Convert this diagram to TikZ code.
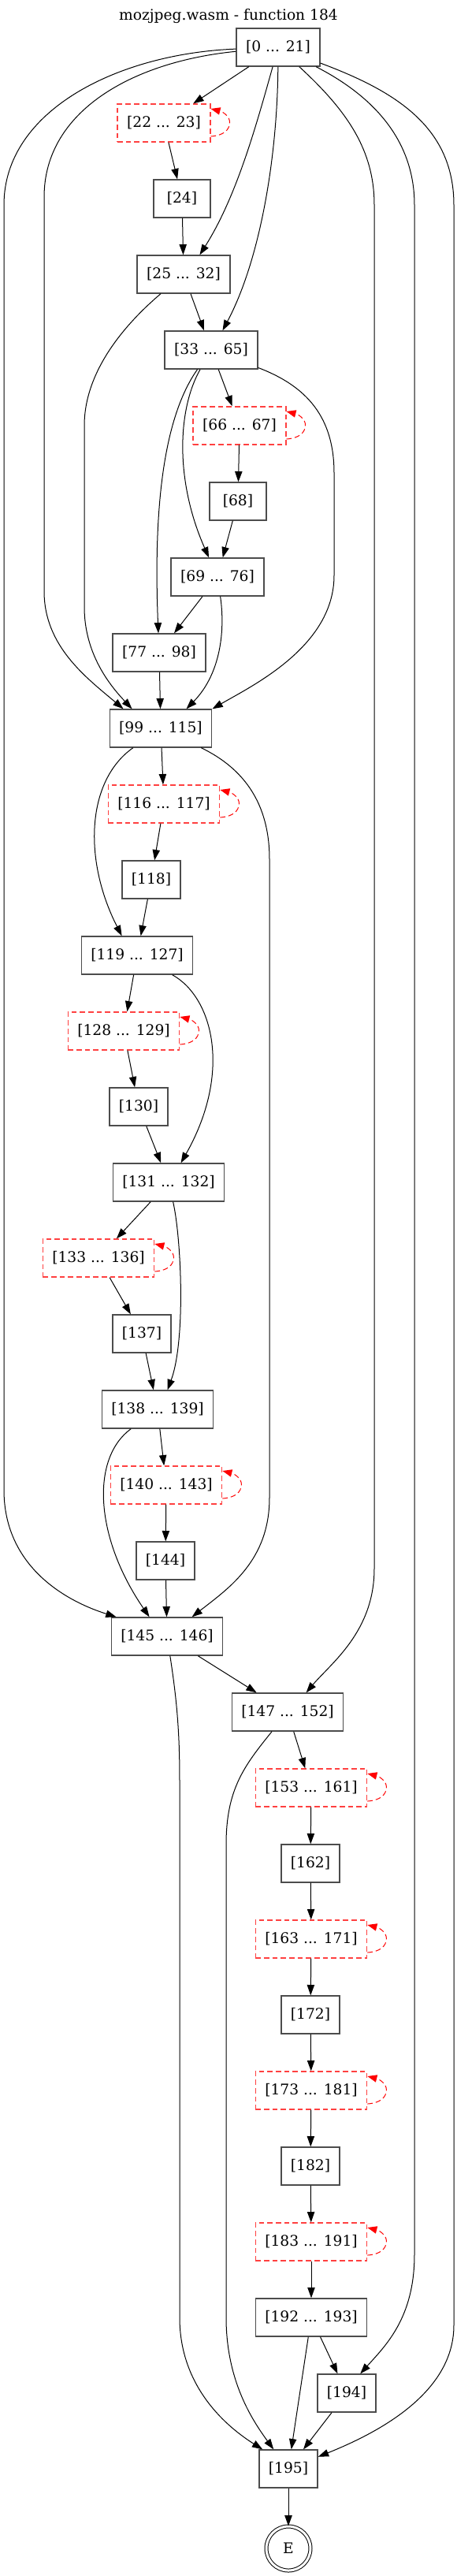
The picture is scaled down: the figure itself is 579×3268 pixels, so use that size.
\documentclass[tikz,border=0pt]{standalone}
\usepackage{fontspec}
\setmainfont{DejaVu Serif}
\usetikzlibrary{arrows.meta,calc}

\begin{document}
\begin{tikzpicture}[x=0.75pt,y=-0.75pt,
  font=\fontsize{14pt}{16pt}\selectfont,
  bb/.style={rectangle,draw=black!70,line width=1pt,minimum width=54pt,minimum height=36pt,inner xsep=9pt},
  loopbb/.style={bb,draw=red!75,dash pattern=on 5pt off 3pt},
  flow/.style={-{Triangle[length=10pt,width=7pt]},line width=0.75pt},
  backflow/.style={-{Triangle[length=9pt,width=7pt]},line width=0.75pt,red,dash pattern=on 5pt off 3pt}]

\useasboundingbox (0,0) rectangle (579,3268);

\node (title) at (290,20) {mozjpeg.wasm - function 184};

\node[bb] (b0) at (353,60) {[0 ... 21]};
\node[loopbb] (b22) at (208,156) {[22 ... 23]};
\node[bb] (b24) at (231,252) {[24]};
\node[bb] (b25) at (233,348) {[25 ... 32]};
\node[bb] (b33) at (268,444) {[33 ... 65]};
\node[loopbb] (b66) at (304,540) {[66 ... 67]};
\node[bb] (b68) at (302,636) {[68]};
\node[bb] (b69) at (276,732) {[69 ... 76]};
\node[bb] (b77) at (202,828) {[77 ... 98]};
\node[bb] (b99) at (204,924) {[99 ... 115]};
\node[loopbb] (b116) at (208,1020) {[116 ... 117]};
\node[bb] (b118) at (192,1116) {[118]};
\node[bb] (b119) at (174,1212) {[119 ... 127]};
\node[loopbb] (b128) at (157,1308) {[128 ... 129]};
\node[bb] (b130) at (176,1404) {[130]};
\node[bb] (b131) at (214,1500) {[131 ... 132]};
\node[loopbb] (b133) at (125,1596) {[133 ... 136]};
\node[bb] (b137) at (180,1692) {[137]};
\node[bb] (b138) at (200,1788) {[138 ... 139]};
\node[loopbb] (b140) at (211,1884) {[140 ... 143]};
\node[bb] (b144) at (210,1980) {[144]};
\node[bb] (b145) at (212,2076) {[145 ... 146]};
\node[bb] (b147) at (365,2172) {[147 ... 152]};
\node[loopbb] (b153) at (395,2268) {[153 ... 161]};
\node[bb] (b162) at (394,2364) {[162]};
\node[loopbb] (b163) at (395,2460) {[163 ... 171]};
\node[bb] (b172) at (394,2556) {[172]};
\node[loopbb] (b173) at (395,2652) {[173 ... 181]};
\node[bb] (b182) at (394,2748) {[182]};
\node[loopbb] (b183) at (395,2844) {[183 ... 191]};
\node[bb] (b192) at (395,2940) {[192 ... 193]};
\node[bb] (b194) at (440,3036) {[194]};
\node[bb] (b195) at (366,3132) {[195]};
\node[circle,draw,double,double distance=2.25pt,line width=0.75pt,minimum size=42pt,inner sep=0pt] (bE) at (366,3233) {E};

\draw[flow] (b0) -- (b22);
\draw[flow] (b22) -- (b24);
\draw[flow] (b24) -- (b25);
\draw[flow] (b25) -- (b33);
\draw[flow] (b33) -- (b66);
\draw[flow] (b66) -- (b68);
\draw[flow] (b68) -- (b69);
\draw[flow] (b69) -- (b77);
\draw[flow] (b77) -- (b99);
\draw[flow] (b99) -- (b116);
\draw[flow] (b116) -- (b118);
\draw[flow] (b118) -- (b119);
\draw[flow] (b119) -- (b128);
\draw[flow] (b128) -- (b130);
\draw[flow] (b130) -- (b131);
\draw[flow] (b131) -- (b133);
\draw[flow] (b133) -- (b137);
\draw[flow] (b137) -- (b138);
\draw[flow] (b138) -- (b140);
\draw[flow] (b140) -- (b144);
\draw[flow] (b144) -- (b145);
\draw[flow] (b145) -- (b147);
\draw[flow] (b147) -- (b153);
\draw[flow] (b153) -- (b162);
\draw[flow] (b162) -- (b163);
\draw[flow] (b163) -- (b172);
\draw[flow] (b172) -- (b173);
\draw[flow] (b173) -- (b182);
\draw[flow] (b182) -- (b183);
\draw[flow] (b183) -- (b192);
\draw[flow] (b192) -- (b194);
\draw[flow] (b192) -- (b195);
\draw[flow] (b194) -- (b195);
\draw[flow] (b195) -- (bE);

\draw[flow] (b0) .. controls (150,68) and (5,140) .. (5,260) -- (5,1890) .. controls (5,1985) and (80,2030) .. ($(b145.north west)+(7,0)$);
\draw[flow] (b0) .. controls (170,78) and (56,140) .. (56,250) -- (56,750) .. controls (56,820) and (110,860) .. ($(b99.north west)+(18,0)$);
\draw[flow] (b0) .. controls (325,160) and (300,250) .. ($(b25.north west)+(80,0)$);
\draw[flow] (b0) .. controls (352,200) and (330,330) .. ($(b33.north west)+(74,0)$);
\draw[flow] (b0) .. controls (440,140) and (475,190) .. (475,260) -- (475,1990) .. controls (475,2070) and (420,2110) .. ($(b147.north west)+(95,0)$);
\draw[flow] (b0) .. controls (470,120) and (526,175) .. (526,260) -- (526,2860) .. controls (526,2940) and (490,2975) .. ($(b194.north west)+(55,0)$);
\draw[flow] (b0) .. controls (500,115) and (576,160) .. (576,260) -- (576,2950) .. controls (576,3040) and (470,3090) .. (b195);
\draw[flow] (b25) .. controls (160,410) and (107,470) .. (107,540) -- (107,770) .. controls (107,830) and (140,870) .. ($(b99.north west)+(29,0)$);
\draw[flow] (b33) .. controls (200,540) and (196,680) .. (b77);
\draw[flow] (b33) .. controls (225,520) and (222,610) .. (b69);
\draw[flow] (b33) .. controls (390,490) and (424,530) .. (424,600) -- (424,730) .. controls (424,820) and (320,870) .. (b99.north east);
\draw[flow] (b69) .. controls (286,800) and (280,855) .. ($(b99.north west)+(98,0)$);
\draw[flow] (b99) .. controls (110,990) and (105,1090) .. ($(b119.north west)+(52,0)$);
\draw[flow] (b99) .. controls (310,975) and (342,1020) .. (342,1090) -- (342,1900) .. controls (342,1980) and (290,2015) .. ($(b145.north west)+(103,0)$);
\draw[flow] (b119) .. controls (270,1265) and (295,1360) .. ($(b131.north west)+(87,0)$);
\draw[flow] (b131) .. controls (230,1570) and (236,1700) .. ($(b138.north west)+(84,0)$);
\draw[flow] (b138) .. controls (115,1850) and (120,1950) .. ($(b145.north west)+(49,0)$);
\draw[flow] (b145) .. controls (225,2160) and (228,2200) .. (228,2260) -- (228,2940) .. controls (228,3030) and (290,3080) .. ($(b195.north west)+(5,0)$);
\draw[flow] (b147) .. controls (310,2240) and (287,2270) .. (287,2340) -- (287,2940) .. controls (287,3020) and (320,3070) .. ($(b195.north west)+(19,0)$);

\foreach \b in {b22,b66,b116,b128,b133,b140,b153,b163,b173,b183}
  \draw[backflow] ($(\b.east)+(0,17)$) .. controls ($(\b.east)+(16,16)$) and ($(\b.east)+(24,9)$) .. ($(\b.east)+(24,-1)$) .. controls ($(\b.east)+(24,-8)$) and ($(\b.east)+(16,-14)$) .. ($(\b.east)+(0,-18)$);

\end{tikzpicture}
\end{document}
